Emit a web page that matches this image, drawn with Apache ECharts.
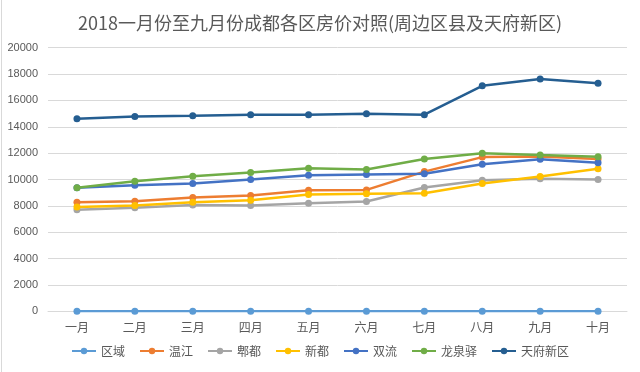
<!DOCTYPE html>
<html><head><meta charset="utf-8">
<script src="https://cdn.jsdelivr.net/npm/echarts@6/dist/echarts.min.js"></script>
<style>html,body{margin:0;padding:0;background:#fff}#c{width:640px;height:372px}#b{position:absolute;left:1px;top:0;width:1px;height:372px;background:#d9d9d9}</style>
</head><body><div id="c"></div><div id="b"></div>
<script>
const titleText = '2018一月份至九月份成都各区房价对照(周边区县及天府新区)';
const months = ['一月','二月','三月','四月','五月','六月','七月','八月','九月','十月'];
const seriesNames = ['区域','温江','郫都','新都','双流','龙泉驿','天府新区'];
const quyu     = [0,0,0,0,0,0,0,0,0,0];
const wenjiang = [8280,8350,8630,8780,9190,9210,10600,11700,11750,11550];
const pidu     = [7700,7850,8070,8030,8200,8330,9390,9950,10050,10000];
const xindu    = [7920,8030,8270,8430,8860,8910,8950,9700,10230,10810];
const shuangliu= [9370,9570,9700,10000,10330,10380,10430,11160,11540,11270];
const longquan = [9380,9870,10250,10530,10860,10760,11550,12000,11850,11720];
const tianfu   = [14610,14780,14840,14910,14910,14980,14920,17110,17620,17310];
const yTicks = {min:0, max:20000, interval:2000};
const colors = ['#5B9BD5','#ED7D31','#A5A5A5','#FFC000','#4472C4','#70AD47','#255E91'];
const dataSets = [quyu,wenjiang,pidu,xindu,shuangliu,longquan,tianfu];

const chart = echarts.init(document.getElementById('c'), null, {renderer:'canvas'});
chart.setOption({
  animation:false,
  color: colors,
  title:{text:titleText,left:'center',top:9,textStyle:{fontFamily:'Noto Sans CJK SC',fontSize:18,fontWeight:'normal',color:'#595959'}},
  grid:{left:48,right:13,top:47.7,bottom:60.7,containLabel:false},
  legend:{bottom:10,left:'center',itemWidth:24,itemHeight:8,itemGap:14,
    textStyle:{fontFamily:'Noto Sans CJK SC',fontSize:12,color:'#595959'},
    data:seriesNames},
  xAxis:{type:'category',data:months,boundaryGap:true,
    axisLine:{lineStyle:{color:'#d9d9d9'}},axisTick:{show:false},
    axisLabel:{margin:10,fontFamily:'Noto Sans CJK SC',fontSize:12,color:'#595959'}},
  yAxis:{type:'value',min:yTicks.min,max:yTicks.max,interval:yTicks.interval,
    axisLine:{show:false},axisTick:{show:false},
    axisLabel:{margin:10,fontFamily:'Liberation Sans',fontSize:11,color:'#595959',formatter:v=>String(v)},
    splitLine:{lineStyle:{color:'#d9d9d9',width:1}}},
  series: seriesNames.map((n,i)=>({
    name:n,type:'line',data:dataSets[i],symbol:'circle',symbolSize:7,
    lineStyle:{width:2.5,color:colors[i]},itemStyle:{color:colors[i]},z:2+i
  }))
});
</script></body></html>
